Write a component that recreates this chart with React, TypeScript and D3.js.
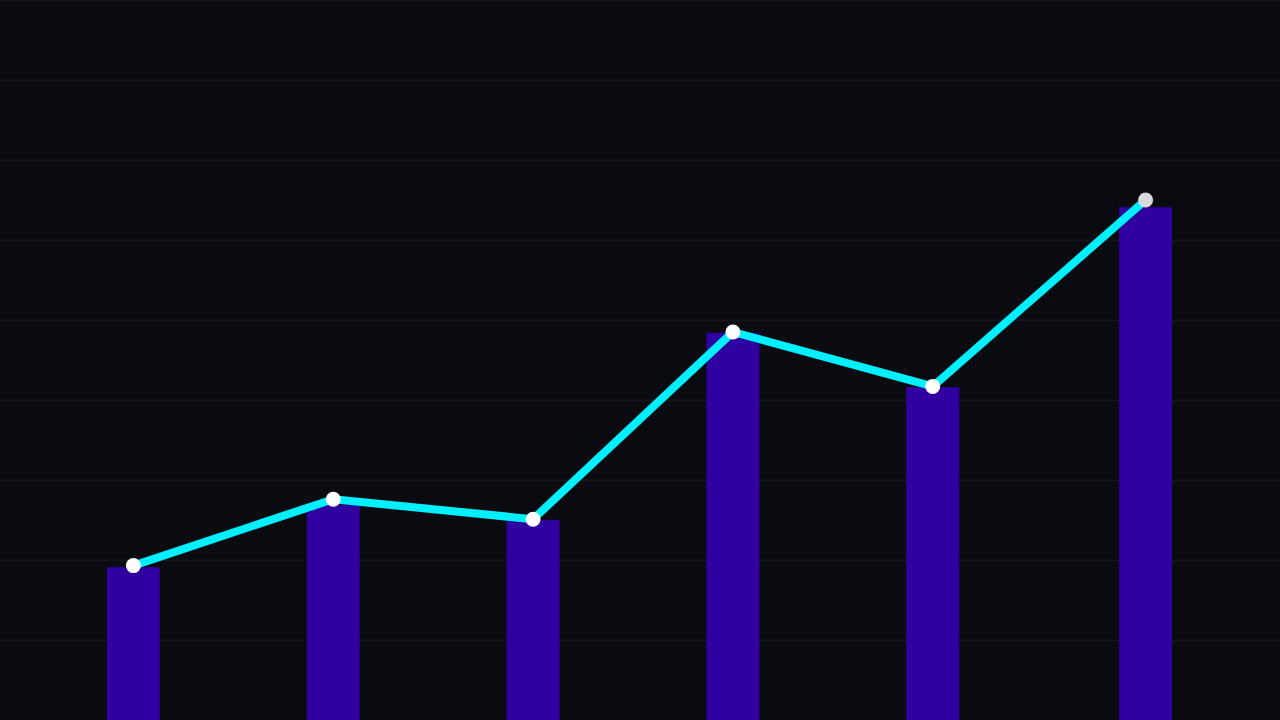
import React from 'react';
import * as d3 from 'd3';

const categories = ['A', 'B', 'C', 'D', 'E', 'F'];
const barValues = [1.91, 2.69, 2.5, 4.84, 4.16, 6.41];
const lineValues = [1.93, 2.76, 2.51, 4.85, 4.17, 6.5];
const gridTicks = [1, 2, 3, 4, 5, 6, 7, 8, 9];

const W = 1280;
const H = 720;

export default function App() {
  const x = d3.scaleBand<string>().domain(categories).range([33, 1233]).paddingInner(0.735).paddingOuter(0.37);
  const y = d3.scaleLinear().domain([0, 9]).range([H, 0]);
  const cx = (c: string) => (x(c) ?? 0) + x.bandwidth() / 2;

  const pts: [number, number][] = categories.map((c, i) => [cx(c), y(lineValues[i])]);
  // last point in the frame is drifting right
  pts[5][0] += 13;
  const line = d3.line<[number, number]>().x((d) => d[0]).y((d) => d[1]);

  return (
    <div style={{position: 'fixed', left: 0, top: 0, width: W, height: H}}>
      <svg width={W} height={H} style={{display: 'block', background: '#0a0b10'}}>
        {gridTicks.map((t) => (
          <line key={t} x1={0} x2={W} y1={y(t) + 0.5} y2={y(t) + 0.5} stroke="#13151a" strokeWidth={2} />
        ))}
        {categories.map((c, i) => (
          <rect
            key={c}
            x={(x(c) ?? 0) + (i === 5 ? 13 : 0)}
            y={y(barValues[i])}
            width={x.bandwidth()}
            height={H - y(barValues[i])}
            fill="#3100a0"
          />
        ))}
        <path d={line(pts) ?? ''} fill="none" stroke="#00f0ff" strokeWidth={8} strokeLinejoin="round" />
        {pts.map((p, i) => (
          <circle
            key={i}
            cx={p[0]}
            cy={p[1]}
            r={7.5}
            fill={i === 5 ? '#d8dadc' : '#ffffff'}
          />
        ))}
      </svg>
    </div>
  );
}
